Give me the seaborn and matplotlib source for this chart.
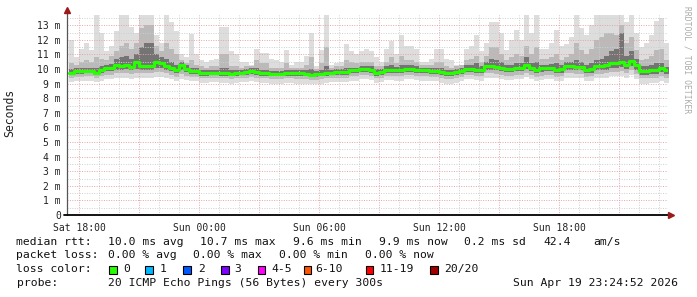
import numpy as np
import pandas as pd
import matplotlib
matplotlib.use("Agg")
import matplotlib.pyplot as plt
from matplotlib.patches import Rectangle
from matplotlib.ticker import FixedLocator
import seaborn as sns

# ---------------- data (ms), 15-minute bins starting Sat 17:30 ----------------
start_hour = -0.5          # hours relative to Sat 18:00
step_hour = 0.25

median_ms = [
    9.75, 9.84, 9.84, 9.85, 9.85, 9.75, 9.9, 10.07, 10.07, 10.3,
    10.2, 10.3, 10.15, 10.5, 10.2, 10.2, 10.2, 10.5, 10.43, 10.2,
    10.1, 9.9, 10.25, 10.0, 9.84, 9.84, 9.7, 9.72, 9.75, 9.75,
    9.72, 9.7, 9.68, 9.72, 9.75, 9.8, 9.84, 9.78, 9.72, 9.72,
    9.66, 9.65, 9.65, 9.72, 9.72, 9.7, 9.7, 9.65, 9.6, 9.63,
    9.65, 9.72, 9.75, 9.8, 9.8, 9.8, 9.9, 9.9, 10.0, 9.97,
    9.95, 9.75, 9.78, 9.95, 9.95, 9.9, 9.9, 10.0, 10.0, 9.95,
    9.9, 9.9, 9.84, 9.84, 9.8, 9.7, 9.7, 9.8, 9.85, 10.0,
    10.0, 9.95, 9.9, 10.2, 10.2, 10.15, 10.1, 10.0, 10.0, 10.05,
    10.07, 10.25, 10.1, 9.95, 10.05, 10.07, 10.07, 9.95, 9.98, 10.2,
    10.2, 10.15, 10.15, 9.95, 10.0, 10.18, 10.18, 10.25, 10.43, 10.4,
    10.5, 10.3, 10.55, 10.25, 9.87, 9.87, 9.9, 9.9, 10.05, 9.9,
]

max_ms = [
    12.0, 10.8, 11.4, 11.8, 11.3, 13.7, 12.5, 11.2, 11.6, 12.6,
    13.7, 13.7, 12.9, 12.5, 13.7, 13.7, 13.7, 12.3, 11.8, 13.7,
    13.2, 12.6, 11.0, 10.8, 12.4, 11.0, 10.6, 10.5, 10.6, 10.7,
    12.9, 12.9, 11.2, 11.0, 10.5, 10.5, 10.3, 11.4, 11.1, 11.1,
    10.7, 10.6, 10.5, 11.3, 10.3, 10.5, 10.5, 10.9, 12.5, 10.2,
    11.3, 13.7, 10.3, 10.4, 10.5, 11.7, 11.2, 11.0, 11.2, 11.4,
    11.2, 10.8, 10.5, 11.4, 11.9, 11.0, 12.3, 11.6, 11.6, 11.4,
    10.5, 10.5, 10.7, 11.4, 11.4, 10.7, 10.6, 10.3, 10.3, 11.4,
    11.6, 12.3, 11.2, 11.8, 13.2, 13.2, 12.5, 11.3, 12.0, 12.7,
    12.0, 13.7, 12.5, 13.7, 11.4, 11.4, 11.8, 12.7, 11.6, 11.7,
    12.2, 13.7, 12.8, 12.3, 13.0, 13.7, 13.7, 13.7, 13.7, 13.7,
    13.7, 13.2, 13.7, 12.5, 11.5, 11.8, 12.3, 13.3, 13.5, 11.8,
]

upper_q_ms = [
    10.4, 10.3, 10.5, 10.6, 10.5, 10.8, 10.7, 10.6, 10.9, 11.2,
    11.6, 11.8, 11.4, 11.8, 12.8, 13.0, 13.0, 11.6, 11.2, 11.8,
    11.4, 11.0, 10.6, 10.4, 10.6, 10.3, 10.2, 10.1, 10.2, 10.2,
    11.0, 11.0, 10.2, 10.2, 10.1, 10.2, 10.2, 10.6, 10.4, 10.4,
    10.1, 10.1, 10.1, 10.4, 10.1, 10.1, 10.1, 10.3, 10.8, 10.0,
    10.4, 11.5, 10.1, 10.2, 10.2, 10.6, 10.5, 10.4, 10.5, 10.5,
    10.5, 10.2, 10.2, 10.5, 10.8, 10.4, 10.9, 10.6, 10.6, 10.5,
    10.3, 10.3, 10.3, 10.5, 10.5, 10.2, 10.1, 10.2, 10.3, 10.6,
    10.7, 10.9, 10.5, 10.9, 11.5, 11.5, 11.0, 10.6, 10.8, 11.0,
    10.9, 11.6, 11.0, 11.5, 10.7, 10.7, 10.8, 11.0, 10.6, 10.8,
    11.0, 11.8, 11.3, 11.0, 11.4, 12.0, 12.2, 12.5, 12.5, 12.3,
    13.0, 11.8, 12.2, 11.3, 10.6, 10.7, 10.9, 11.3, 11.4, 10.6,
]

upper_core_ms = [
    10.0, 10.05, 10.05, 10.1, 10.1, 10.1, 10.2, 10.3, 10.35, 10.7,
    10.8, 10.9, 10.7, 11.0, 11.5, 11.8, 11.8, 11.0, 10.8, 10.7,
    10.5, 10.3, 10.5, 10.3, 10.1, 10.05, 9.95, 9.95, 9.95, 9.95,
    10.1, 10.1, 9.9, 9.9, 9.95, 10.0, 10.05, 10.1, 9.95, 9.95,
    9.85, 9.85, 9.85, 9.95, 9.9, 9.9, 9.9, 9.9, 10.0, 9.85,
    9.9, 10.2, 9.95, 10.0, 10.0, 10.05, 10.1, 10.1, 10.2, 10.2,
    10.2, 10.0, 10.0, 10.2, 10.3, 10.15, 10.3, 10.25, 10.25, 10.2,
    10.1, 10.1, 10.05, 10.1, 10.1, 9.95, 9.9, 10.0, 10.05, 10.25,
    10.3, 10.4, 10.2, 10.5, 10.7, 10.6, 10.5, 10.3, 10.3, 10.4,
    10.4, 10.8, 10.4, 10.5, 10.3, 10.3, 10.35, 10.4, 10.25, 10.45,
    10.5, 10.6, 10.5, 10.3, 10.4, 10.6, 10.7, 10.9, 11.2, 11.4,
    12.5, 10.9, 11.2, 10.7, 10.2, 10.2, 10.25, 10.4, 10.4, 10.15,
]

lower_core_ms = [
    9.6, 9.65, 9.65, 9.7, 9.7, 9.6, 9.7, 9.85, 9.85, 9.95,
    9.95, 10.0, 9.9, 10.0, 9.95, 9.95, 9.95, 10.1, 10.1, 9.95,
    9.85, 9.7, 9.9, 9.8, 9.65, 9.65, 9.55, 9.55, 9.6, 9.6,
    9.55, 9.55, 9.5, 9.55, 9.6, 9.6, 9.65, 9.6, 9.55, 9.55,
    9.5, 9.5, 9.5, 9.55, 9.55, 9.5, 9.5, 9.5, 9.45, 9.45,
    9.5, 9.55, 9.6, 9.6, 9.6, 9.6, 9.7, 9.7, 9.8, 9.8,
    9.75, 9.55, 9.6, 9.75, 9.75, 9.7, 9.7, 9.8, 9.8, 9.75,
    9.7, 9.7, 9.65, 9.65, 9.6, 9.5, 9.5, 9.6, 9.65, 9.8,
    9.8, 9.75, 9.7, 9.95, 9.95, 9.9, 9.85, 9.8, 9.8, 9.85,
    9.85, 10.0, 9.85, 9.7, 9.8, 9.85, 9.85, 9.7, 9.75, 9.95,
    9.95, 9.9, 9.9, 9.7, 9.75, 9.9, 9.9, 9.95, 10.1, 10.1,
    10.15, 10.0, 10.2, 9.95, 9.6, 9.6, 9.65, 9.65, 9.8, 9.65,
]

lower_q_ms = [
    9.4, 9.45, 9.45, 9.5, 9.5, 9.4, 9.5, 9.6, 9.6, 9.7,
    9.7, 9.75, 9.65, 9.75, 9.7, 9.7, 9.7, 9.8, 9.8, 9.7,
    9.6, 9.45, 9.65, 9.55, 9.45, 9.45, 9.35, 9.35, 9.4, 9.4,
    9.35, 9.35, 9.3, 9.35, 9.4, 9.4, 9.45, 9.4, 9.35, 9.35,
    9.3, 9.3, 9.3, 9.35, 9.35, 9.3, 9.3, 9.3, 9.25, 9.25,
    9.3, 9.35, 9.4, 9.4, 9.4, 9.4, 9.5, 9.5, 9.6, 9.6,
    9.55, 9.35, 9.4, 9.55, 9.55, 9.5, 9.5, 9.6, 9.6, 9.55,
    9.5, 9.5, 9.45, 9.45, 9.4, 9.3, 9.3, 9.4, 9.45, 9.6,
    9.6, 9.55, 9.5, 9.7, 9.7, 9.65, 9.6, 9.55, 9.55, 9.6,
    9.6, 9.75, 9.6, 9.45, 9.55, 9.6, 9.6, 9.45, 9.5, 9.7,
    9.7, 9.65, 9.65, 9.45, 9.5, 9.65, 9.65, 9.7, 9.8, 9.8,
    9.85, 9.7, 9.9, 9.65, 9.35, 9.35, 9.4, 9.4, 9.55, 9.4,
]

min_ms = [
    9.1, 9.15, 9.15, 9.2, 9.2, 9.1, 9.2, 9.3, 9.3, 9.35,
    9.35, 9.4, 9.3, 9.4, 9.35, 9.35, 9.35, 9.45, 9.45, 9.35,
    9.3, 9.15, 9.3, 9.25, 9.15, 9.15, 9.05, 9.05, 9.1, 9.1,
    9.05, 9.05, 9.0, 9.05, 9.1, 9.1, 9.15, 9.1, 9.05, 9.05,
    9.0, 9.0, 9.0, 9.05, 9.05, 9.0, 9.0, 9.0, 8.95, 8.95,
    9.0, 9.05, 9.1, 9.1, 9.1, 9.1, 9.2, 9.2, 9.3, 9.3,
    9.25, 9.05, 9.1, 9.25, 9.25, 9.2, 9.2, 9.3, 9.3, 9.25,
    9.2, 9.2, 9.15, 9.15, 9.05, 8.95, 8.95, 9.05, 9.15, 9.3,
    9.3, 9.25, 9.2, 9.4, 9.4, 9.35, 9.3, 9.25, 9.25, 9.3,
    9.3, 9.45, 9.3, 9.15, 9.25, 9.3, 9.3, 9.15, 9.2, 9.4,
    9.4, 9.35, 9.35, 9.15, 9.2, 9.35, 9.35, 9.4, 9.5, 9.5,
    9.55, 9.4, 9.6, 9.3, 9.0, 9.0, 9.05, 9.05, 9.2, 9.05,
]

x_tick_hours = [0, 6, 12, 18, 24]
x_tick_labels = ["Sat 18:00", "Sun 00:00", "Sun 06:00", "Sun 12:00", "Sun 18:00"]
y_tick_values = list(range(0, 14))
y_tick_labels = ["0"] + [f"{v} m" for v in range(1, 14)]

stats_rtt = [("median rtt:", 16.5), ("10.0 ms avg", 107.5), ("10.7 ms max", 200),
             ("9.6 ms min", 293), ("9.9 ms now", 378.5), ("0.2 ms sd", 464.5),
             ("42.4", 543), ("am/s", 593)]
stats_loss = [("packet loss:", 16.5), ("0.00 % avg", 107.5), ("0.00 % max", 193.3),
              ("0.00 % min", 279), ("0.00 % now", 365.3)]
loss_labels = ["0", "1", "2", "3", "4-5", "6-10", "11-19", "20/20"]
loss_colors = ["#26ff00", "#00b8ff", "#0059ff", "#7e00ff", "#ff00ff",
               "#ff5500", "#ff0000", "#a10000"]
loss_square_x = [109, 145.3, 183, 221, 257.8, 303.6, 365.8, 430.2]
loss_label_x = [123.6, 160, 197.8, 234.7, 271, 315.6, 380, 444.4]
probe_text = "20 ICMP Echo Pings (56 Bytes) every 300s"
date_text = "Sun Apr 19 23:24:52 2026"

# ---------------- figure ----------------
sns.set_style("white")
plt.rcParams["font.family"] = ["DejaVu Sans Mono", "DejaVu Sans"]

W, H = 697, 297
fig = plt.figure(figsize=(W / 100, H / 100), dpi=100)
fig.patch.set_facecolor("white")
ax_left, ax_right, ax_top, ax_bottom = 67, 668, 15, 215
ax = fig.add_axes([ax_left / W, 1 - ax_bottom / H,
                   (ax_right - ax_left) / W, (ax_bottom - ax_top) / H])

n = len(median_ms)
edges = start_hour + step_hour * np.arange(n + 1)


def ext(a):
    return np.append(np.asarray(a, float), a[-1])


ax.fill_between(edges, ext(min_ms), ext(max_ms), step="post",
                color="#dddddd", lw=0, zorder=1)
ax.fill_between(edges, ext(lower_q_ms), ext(upper_q_ms), step="post",
                color="#bababa", lw=0, zorder=1.1)
ax.fill_between(edges, ext(lower_core_ms), ext(upper_core_ms), step="post",
                color="#747474", lw=0, zorder=1.2)

df = pd.DataFrame({"t": edges, "median": ext(median_ms)})
sns.lineplot(data=df, x="t", y="median", ax=ax, drawstyle="steps-post",
             color="#26ff00", lw=2.3, zorder=3)

x0 = (ax_left - 79) / 20.0
x1 = (ax_right - 79) / 20.0
ax.set_xlim(x0, x1)
ax.set_ylim(0, (ax_bottom - ax_top) / 14.6)

ax.xaxis.set_major_locator(FixedLocator(x_tick_hours))
ax.set_xticklabels(x_tick_labels)
ax.yaxis.set_major_locator(FixedLocator(y_tick_values))
ax.set_yticklabels(y_tick_labels)
ax.set_xlabel("")
ax.set_ylabel("")

for h in np.arange(0, 30, 1.0):
    major = (h % 3 == 0)
    ax.axvline(h, color="#e3a6a6" if major else "#cfcfcf", lw=0.7,
               ls=(0, (1, 1.5)), zorder=2.5)
for v in np.arange(0.5, 14, 0.5):
    major = (v % 1 == 0)
    ax.axhline(v, color="#e3a6a6" if major else "#cfcfcf", lw=0.7,
               ls=(0, (1, 1.5)), zorder=2.5)

ax.tick_params(axis="x", length=3, width=0.8, pad=2.5, labelsize=7,
               colors="#222222", direction="out")
ax.tick_params(axis="y", length=2, width=0.8, pad=2.5, labelsize=7,
               colors="#222222", direction="out")

for s in ["top", "right", "left", "bottom"]:
    ax.spines[s].set_visible(False)


def fx(x):
    return x / W


def fy(y):
    return 1 - y / H


fig.add_artist(plt.Line2D([fx(ax_left), fx(ax_left)], [fy(ax_bottom), fy(10)],
                          color="#555555", lw=0.9))
fig.add_artist(plt.Line2D([fx(ax_left - 3), fx(671)], [fy(ax_bottom), fy(ax_bottom)],
                          color="#000000", lw=1.3))
fig.add_artist(plt.Line2D([fx(ax_left)], [fy(10)], marker="^", markersize=4,
                          color="#9b1b1b", lw=0))
fig.add_artist(plt.Line2D([fx(671)], [fy(ax_bottom)], marker=">", markersize=4,
                          color="#9b1b1b", lw=0))

fig.text(fx(10), fy(113), "Seconds", rotation=90, ha="center", va="center",
         fontsize=8.3, color="#222222")
fig.text(fx(687), fy(60), "RRDTOOL / TOBI OETIKER", rotation=270, ha="center",
         va="center", fontsize=5.8, color="#aaaaaa")

fs = 8.2
for txt, x in stats_rtt:
    fig.text(fx(x), fy(241.7), txt, ha="left", va="center", fontsize=fs, color="#111111")
for txt, x in stats_loss:
    fig.text(fx(x), fy(255), txt, ha="left", va="center", fontsize=fs, color="#111111")
fig.text(fx(16.5), fy(269.3), "loss color:", ha="left", va="center", fontsize=fs, color="#111111")
for lab, col, xs, xl in zip(loss_labels, loss_colors, loss_square_x, loss_label_x):
    fig.add_artist(Rectangle((fx(xs), fy(273.5)), 7.5 / W, 7.5 / H, transform=fig.transFigure,
                             facecolor=col, edgecolor="black", lw=0.8))
    fig.text(fx(xl), fy(269.3), lab, ha="left", va="center", fontsize=fs, color="#111111")
fig.text(fx(16.5), fy(283.5), "probe:", ha="left", va="center", fontsize=fs, color="#111111")
fig.text(fx(107.5), fy(283.5), probe_text, ha="left", va="center", fontsize=fs, color="#111111")
fig.text(fx(513), fy(283.5), date_text, ha="left", va="center", fontsize=fs, color="#111111")

fig.savefig("out.png", dpi=100, facecolor="white")
